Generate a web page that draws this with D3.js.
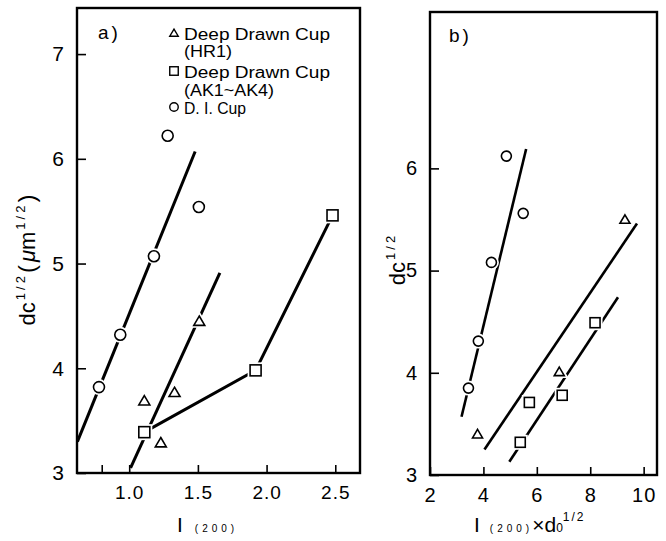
<!DOCTYPE html>
<html><head><meta charset="utf-8">
<script src="https://cdn.jsdelivr.net/npm/d3@7"></script>
<style>
html,body{margin:0;padding:0;background:#fff;}
svg{display:block;}
text{font-family:"Liberation Sans",Arial,sans-serif;fill:#000;}
</style></head>
<body>
<script>
// ---------- DATA ----------
// Panel a: dc^1/2 vs I(200)
const aCircleX = [0.78, 0.935, 1.18, 1.28, 1.507];
const aCircleY = [3.82, 4.32, 5.07, 6.22, 5.54];
const aTriX = [1.11, 1.33, 1.23, 1.51];
const aTriY = [3.69, 3.77, 3.29, 4.45];
const aSqX = [1.11, 1.92, 2.48];
const aSqY = [3.39, 3.98, 5.46];
const aCircleFitX = [0.623, 1.48];
const aCircleFitY = [3.30, 6.07];
const aTriFitX = [1.01, 1.66];
const aTriFitY = [3.05, 4.91];
const aXTicks = [0.8, 1.0, 1.5, 2.0, 2.5];
const aXTickLabels = ["", "1.0", "1.5", "2.0", "2.5"];
const aYTicks = [3, 4, 5, 6, 7];

// Panel b: dc^1/2 vs I(200) x d0^1/2
const bCircleX = [3.44, 3.81, 4.30, 4.86, 5.49];
const bCircleY = [3.85, 4.31, 5.08, 6.12, 5.56];
const bTriX = [3.78, 6.84, 9.30];
const bTriY = [3.40, 4.01, 5.50];
const bSqX = [5.38, 5.72, 6.95, 8.18];
const bSqY = [3.32, 3.71, 3.78, 4.49];
const bCircleFitX = [3.18, 5.60];
const bCircleFitY = [3.57, 6.19];
const bTriFitX = [4.04, 9.75];
const bTriFitY = [3.25, 5.46];
const bSqFitX = [4.97, 9.04];
const bSqFitY = [3.13, 4.74];
const bXTicks = [2, 4, 6, 8, 10];
const bYTicks = [3, 4, 5, 6];

const legendLabels = [["Deep Drawn Cup", "(HR1)"], ["Deep Drawn Cup", "(AK1~AK4)"], ["D. I. Cup"]];

// ---------- DRAW ----------
const W = 666, H = 541;
const svg = d3.select("body").append("svg").attr("width", W).attr("height", H);

const xa = d3.scaleLinear().domain([0.62, 2.68]).range([77, 360]);
const ya = d3.scaleLinear().domain([3, 7.44]).range([473, 8]);
const xb = d3.scaleLinear().domain([2, 10.5]).range([430, 657]);
const yb = d3.scaleLinear().domain([3, 7.53]).range([475, 12]);

function marker(g, type, cx, cy, s) {
  let el;
  if (type === "circle") {
    el = g.append("circle").attr("cx", cx).attr("cy", cy).attr("r", s * 0.5);
  } else if (type === "square") {
    el = g.append("rect").attr("x", cx - s / 2).attr("y", cy - s / 2).attr("width", s).attr("height", s);
  } else {
    const h = s * 0.85;
    el = g.append("path").attr("d", `M${cx},${cy - h * 0.55}L${cx + s / 2},${cy + h * 0.45}L${cx - s / 2},${cy + h * 0.45}Z`);
  }
  return el;
}
function drawMarkers(g, type, xs, ys, xsc, ysc, s) {
  xs.forEach((v, i) => {
    marker(g, type, xsc(v), ysc(ys[i]), s).attr("fill", "#fff").attr("stroke", "#fff").attr("stroke-width", 5);
  });
  xs.forEach((v, i) => {
    marker(g, type, xsc(v), ysc(ys[i]), s).attr("fill", "#fff").attr("stroke", "#000").attr("stroke-width", 1.6);
  });
}
function drawLine(g, xs, ys, xsc, ysc, w) {
  const line = d3.line().x(d => xsc(d[0])).y(d => ysc(d[1]));
  g.append("path").attr("d", line(xs.map((v, i) => [v, ys[i]])))
    .attr("fill", "none").attr("stroke", "#000").attr("stroke-width", w).attr("stroke-linecap", "butt");
}
function frame(g, xsc, ysc, xTicks, xLabels, yTicks, xFs, yFs) {
  const [x0, x1] = xsc.range(), [y0, y1] = ysc.range();
  const ax = d3.axisBottom(xsc).tickValues(xTicks).tickSize(-8).tickFormat((d, i) => xLabels[i]).tickPadding(13);
  const gx = g.append("g").attr("transform", `translate(0,${y0})`).call(ax);
  gx.select(".domain").remove();
  gx.selectAll(".tick line").attr("stroke", "#000").attr("stroke-width", 1.6);
  gx.selectAll(".tick text").attr("font-size", xFs).attr("letter-spacing", 1).attr("fill", "#000")
    .attr("font-family", '"Liberation Sans",Arial,sans-serif');
  const ay = d3.axisLeft(ysc).tickValues(yTicks).tickSize(-9).tickFormat(d3.format("d")).tickPadding(13);
  const gy = g.append("g").attr("transform", `translate(${x0},0)`).call(ay);
  gy.select(".domain").remove();
  gy.selectAll(".tick line").attr("stroke", "#000").attr("stroke-width", 1.6);
  gy.selectAll(".tick text").attr("font-size", yFs).attr("fill", "#000")
    .attr("font-family", '"Liberation Sans",Arial,sans-serif');
  g.append("rect").attr("x", x0).attr("y", y1).attr("width", x1 - x0).attr("height", y0 - y1)
    .attr("fill", "none").attr("stroke", "#000").attr("stroke-width", 2.4);
}

// Panel a
const ga = svg.append("g");
drawLine(ga, aCircleFitX, aCircleFitY, xa, ya, 3);
drawLine(ga, aTriFitX, aTriFitY, xa, ya, 3);
drawLine(ga, aSqX, aSqY, xa, ya, 3);
drawMarkers(ga, "circle", aCircleX, aCircleY, xa, ya, 11);
drawMarkers(ga, "triangle", aTriX, aTriY, xa, ya, 11);
drawMarkers(ga, "square", aSqX, aSqY, xa, ya, 11);
frame(ga, xa, ya, aXTicks, aXTickLabels, aYTicks, 19, 21);

// Panel b
const gb = svg.append("g");
drawLine(gb, bCircleFitX, bCircleFitY, xb, yb, 2.6);
drawLine(gb, bTriFitX, bTriFitY, xb, yb, 2.6);
drawLine(gb, bSqFitX, bSqFitY, xb, yb, 2.6);
drawMarkers(gb, "circle", bCircleX, bCircleY, xb, yb, 10);
drawMarkers(gb, "triangle", bTriX, bTriY, xb, yb, 10);
drawMarkers(gb, "square", bSqX, bSqY, xb, yb, 10);
frame(gb, xb, yb, bXTicks, bXTicks.map(String), bYTicks, 20, 20);

// Panel letters
svg.append("text").attr("x", 98).attr("y", 39).attr("font-size", 19).attr("letter-spacing", 3).text("a)");
svg.append("text").attr("x", 449).attr("y", 42).attr("font-size", 19).attr("letter-spacing", 3).text("b)");

// Legend
const legTypes = ["triangle", "square", "circle"];
const legY = [33, 71, 107];
const legTextY = [[40, 57], [78, 96], [114]];
const legTextW = [[146, 48], [146, 90], [62]];
legTypes.forEach((t, i) => {
  marker(svg, t, 174, legY[i], 8.5).attr("fill", "#fff").attr("stroke", "#000").attr("stroke-width", 1.4);
  legendLabels[i].forEach((s, j) => {
    svg.append("text").attr("x", 184).attr("y", legTextY[i][j]).attr("font-size", 16)
      .attr("textLength", legTextW[i][j]).attr("lengthAdjust", "spacingAndGlyphs").text(s);
  });
});

// Axis titles
const ylabA = svg.append("text").attr("transform", "translate(35,260) rotate(-90)")
  .attr("text-anchor", "middle").attr("font-size", 22);
ylabA.append("tspan").text("dc");
ylabA.append("tspan").attr("font-size", 13).attr("dy", -10).attr("dx", 2).attr("letter-spacing", 3).text("1/2");
ylabA.append("tspan").attr("dy", 10).attr("font-size", 24).text("(");
ylabA.append("tspan").attr("font-style", "italic").attr("dx", 3).text("μ");
ylabA.append("tspan").text("m");
ylabA.append("tspan").attr("font-size", 13).attr("dy", -10).attr("dx", 2).attr("letter-spacing", 3).text("1/2");
ylabA.append("tspan").attr("dy", 10).attr("font-size", 24).text(")");

const ylabB = svg.append("text").attr("transform", "translate(405,259) rotate(-90)")
  .attr("text-anchor", "middle").attr("font-size", 22);
ylabB.append("tspan").text("dc");
ylabB.append("tspan").attr("font-size", 13).attr("dy", -10).attr("dx", 2).attr("letter-spacing", 3).text("1/2");

const xlabA = svg.append("text").attr("x", 177).attr("y", 532).attr("font-size", 21);
xlabA.append("tspan").text("I");
xlabA.append("tspan").attr("font-size", 10).attr("dx", 12).attr("letter-spacing", 4).text("(200)");

const xlabB = svg.append("text").attr("x", 474).attr("y", 532).attr("font-size", 21);
xlabB.append("tspan").text("I");
xlabB.append("tspan").attr("font-size", 10).attr("dx", 10).attr("letter-spacing", 4).text("(200)");
xlabB.append("tspan").attr("dx", -1).text("×d");
xlabB.append("tspan").attr("font-size", 12).text("0");
xlabB.append("tspan").attr("font-size", 12).attr("dy", -11).attr("letter-spacing", 2).text("1/2");
</script>
</body></html>
